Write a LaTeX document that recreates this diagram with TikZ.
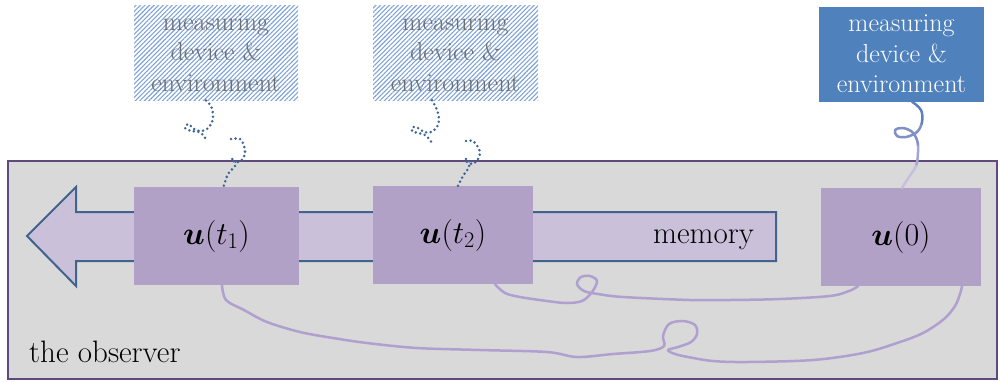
\RequirePackage{fix-cm}
\documentclass[tikz,border=0pt]{standalone}
\usepackage{amsmath,bm}
\usetikzlibrary{patterns.meta,calc}
\definecolor{obsfill}{HTML}{D9D9D9}
\definecolor{obsline}{HTML}{604A7B}
\definecolor{arrfill}{HTML}{CAC0DA}
\definecolor{arrline}{HTML}{41648C}
\definecolor{ufill}{HTML}{B2A1C7}
\definecolor{bluebox}{HTML}{4F81BD}
\definecolor{curvec}{HTML}{B0A0CF}
\definecolor{dotc}{HTML}{3C6494}
\definecolor{hatchc}{HTML}{7FA2D6}
\definecolor{grtext}{HTML}{6E6E6E}
\definecolor{cA}{HTML}{5C80C0}
\definecolor{cB}{HTML}{7F90C8}
\definecolor{cC}{HTML}{A4A5D6}
\definecolor{cD}{HTML}{C8BFE0}
\tikzset{
  obsbox/.style={draw=obsline, line width=2pt, fill=obsfill, minimum width=989pt, minimum height=218pt, inner sep=0pt},
  ubox/.style={fill=ufill, inner sep=0pt, minimum width=#1, minimum height=98pt, font=\fontsize{32}{38}\selectfont},
  mbox/.style={inner sep=0pt, minimum width=#1, minimum height=95pt, align=center, font=\fontsize{26}{30.5}\selectfont},
  hatchbox/.style={mbox=#1, text=grtext, pattern={Lines[angle=45,distance=3.2pt,line width=1.1pt]}, pattern color=hatchc},
  solidbox/.style={mbox=#1, text=white, fill=bluebox},
  arrowshape/.style={draw=arrline, line width=2pt, fill=arrfill, line join=miter},
  dotline/.style={draw=dotc, line width=2.8pt, line cap=round, dash pattern=on 0pt off 4.6pt},
  memcurve/.style={draw=curvec, line width=2.5pt, line cap=round, line join=round},
  bigtext/.style={font=\fontsize{31}{36}\selectfont}
}
\begin{document}
\begin{tikzpicture}[x=1pt,y=-1pt]
\useasboundingbox (0,0) rectangle (1000,381);
% observer
\node[obsbox] (obs) at (502.5,270) {};
\node[bigtext, anchor=base west, inner sep=0pt] (obslabel) at (29,362) {the observer};
% memory arrow
\draw[arrowshape] (27,236) -- (76,187) -- (76,212) -- (776,212) -- (776,261) -- (76,261) -- (76,286) -- cycle;
\node[bigtext, anchor=base east, inner sep=0pt] (mem) at (754,243) {memory};
% state boxes
\node[ubox=165pt] (u1) at (216.5,236) {$\bm{u}(t_1)$};
\node[ubox=160pt] (u2) at (453,235) {$\bm{u}(t_2)$};
\node[ubox=160pt] (u0) at (901,237) {$\bm{u}(0)$};
% environment boxes
\node[hatchbox=164pt] (m1) at (216,52.5) {measuring\\device \&\\environment};
\node[hatchbox=165pt] (m2) at (455.5,52.5) {measuring\\device \&\\environment};
\node[solidbox=165pt] (m3) at (901.5,54) {measuring\\device \&\\environment};
% memory curves
\draw[memcurve] plot[smooth, tension=0.55] coordinates {([xshift=42pt]u2.south) (505,293) (520,297) (547,301) (566,303) (582,301) (592,292) (597,281) (590,276) (581,277) (577,284) (584,291) (598,294) (623,297) (690,300) (730,300) (780,299) (830,296) (849,291) ([xshift=-43pt]u0.south)};
\draw[memcurve] plot[smooth, tension=0.55] coordinates {([xshift=5.5pt]u1.south) (226,300) (244,310) (267,322) (300,332) (333,338) (367,343) (417,348) (480,350) (547,352) (577,357) (613,354) (650,351) (664,346) (663,336) (669,324) (683,321) (695,325) (697,334) (691,342) (678,347) (668,350) (675,354) (688,357) (713,361) (747,362) (813,360) (863,353) (897,343) (923,333) (944,319) (955,306) (960,294) ([xshift=61pt]u0.south)};
% dotted squiggles
\draw[dotline] plot[smooth, tension=0.6] coordinates {([xshift=-10pt]m1.south) (211,106) (213,114) (212,122) (207,129) (200,131) (194,129) (188,124) (185,128) (191,131) (199,132) (204,136) (206,140)};
\draw[dotline] plot[smooth, tension=0.6] coordinates {(231,139) (240,139) (244,146) (245,154) (241,161) (235,162) (231,159) (235,160) (235,166) (228,174) ([xshift=7pt]u1.north)};
\draw[dotline] plot[smooth, tension=0.6] coordinates {([xshift=-23.5pt]m2.south) (437,110) (439,119) (437,127) (431,132) (424,132) (418,128) (413,127) (412,131) (418,133) (425,135) (429,139) (432,143)};
\draw[dotline] plot[smooth, tension=0.6] coordinates {(466,141) (473,141) (478,147) (480,153) (478,159) (473,164) (467,162) (465,159) (469,160) (469,167) (463,176) ([xshift=5pt]u2.north)};
% blue curl with colour fade
\def\bluecurl{plot[smooth, tension=0.6] coordinates {([xshift=10.5pt]m3.south) (921,110) (922,122) (917,132) (906,137) (897,136) (895,130) (902,128) (911,131) (917,140) (918,152) (916,166) (909,177) ([xshift=1pt]u0.north)}}
\begin{scope}\clip (850,100) rectangle (960,124);\draw[memcurve, draw=cA] \bluecurl;\end{scope}
\begin{scope}\clip (850,124) rectangle (960,145);\draw[memcurve, draw=cB] \bluecurl;\end{scope}
\begin{scope}\clip (850,145) rectangle (960,165);\draw[memcurve, draw=cC] \bluecurl;\end{scope}
\begin{scope}\clip (850,165) rectangle (960,190);\draw[memcurve, draw=cD] \bluecurl;\end{scope}
\end{tikzpicture}
\end{document}
